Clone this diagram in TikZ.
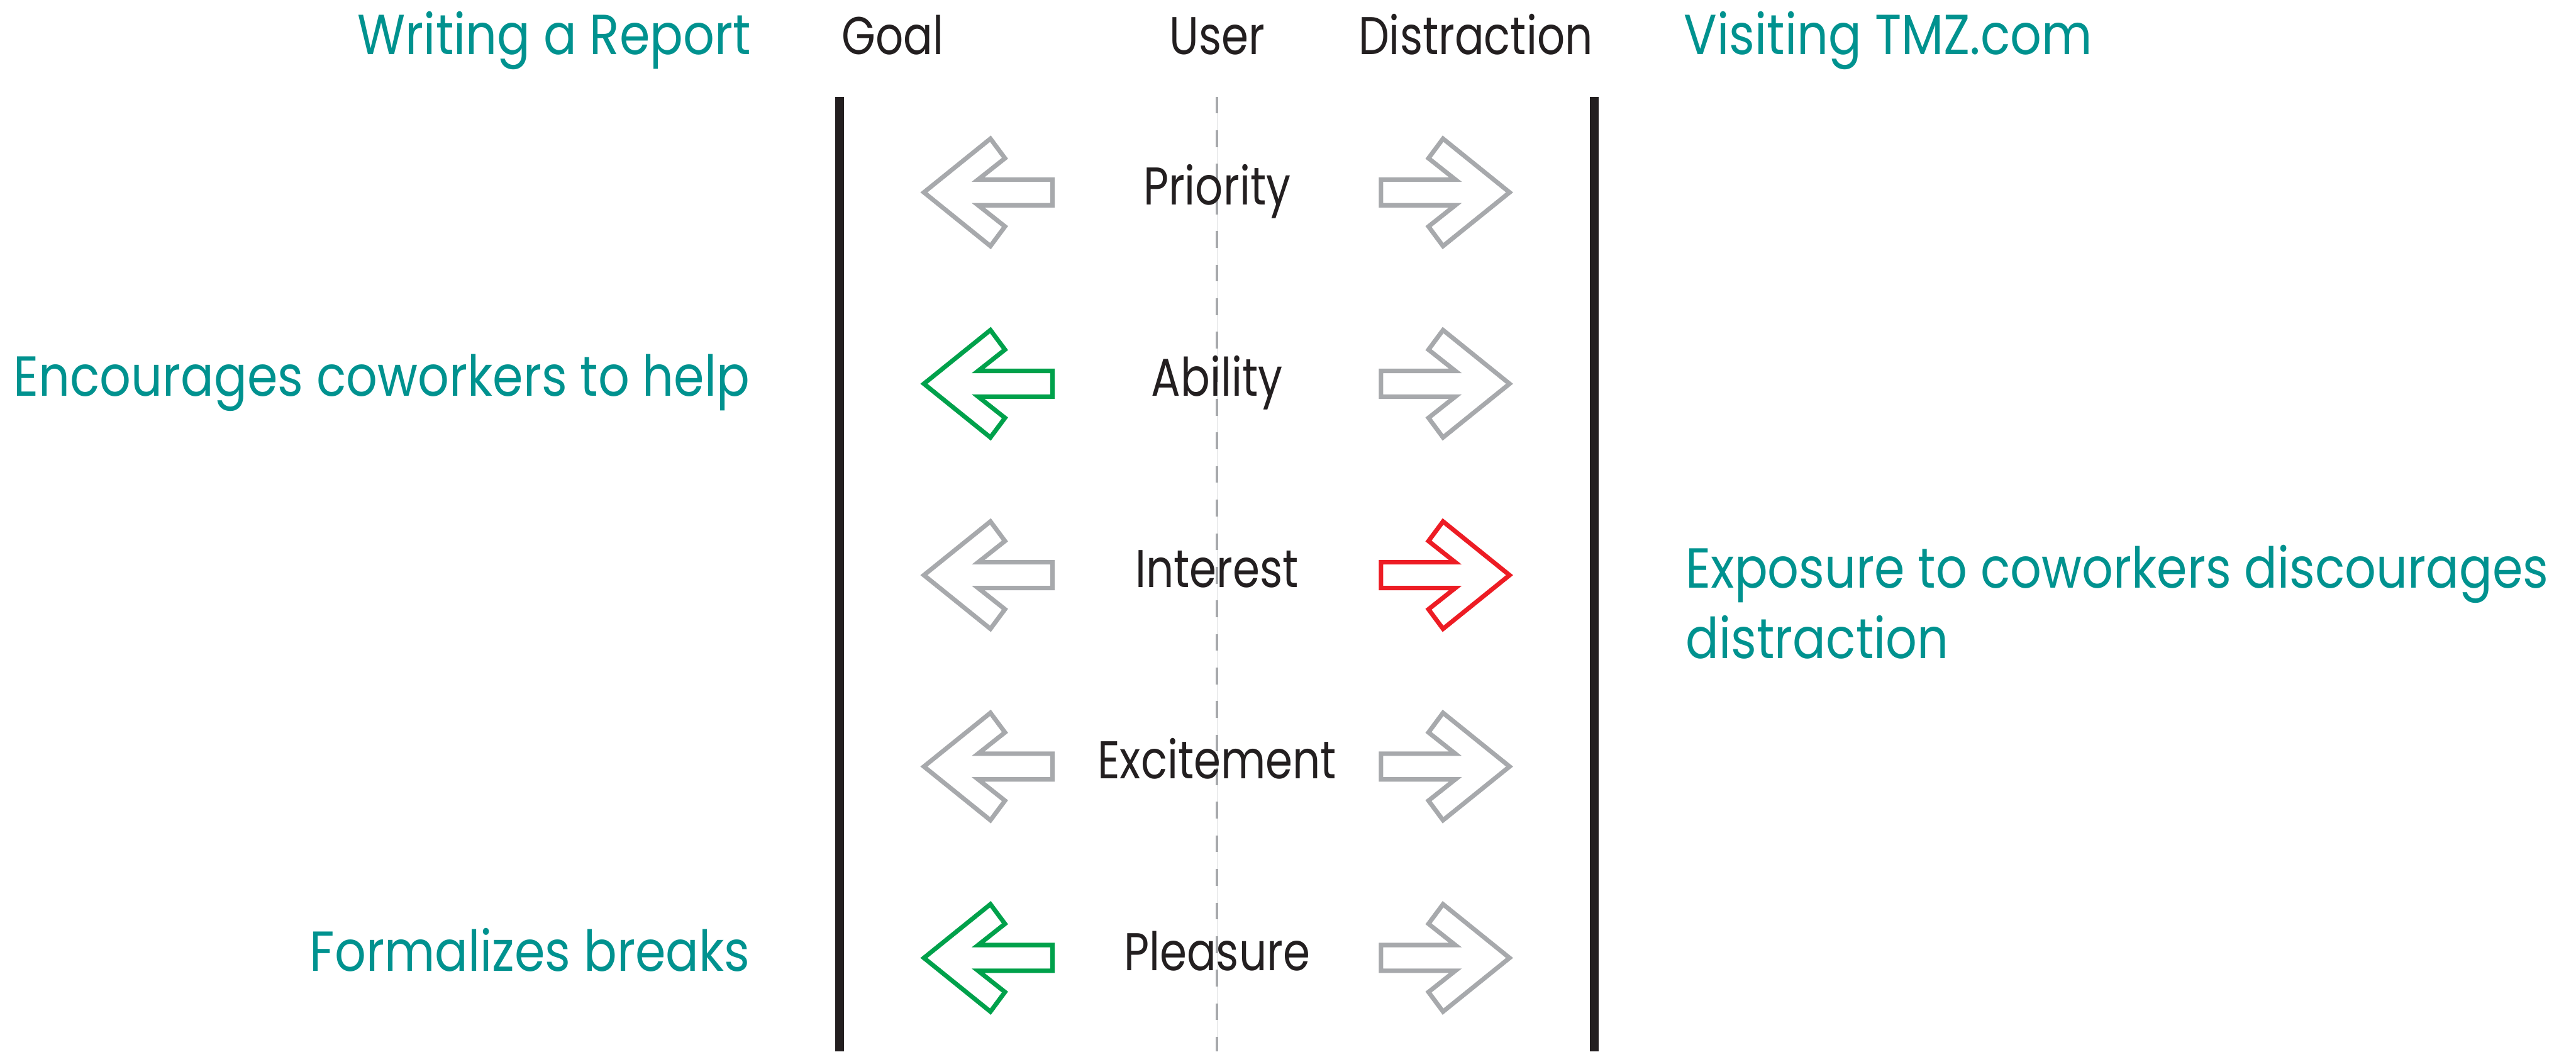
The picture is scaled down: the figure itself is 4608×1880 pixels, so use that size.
\documentclass[tikz,border=0pt]{standalone}
\usepackage{fontspec}
\setmainfont[FakeStretch=0.82]{Poppins}
\newfontfamily\notefont[FakeStretch=0.87]{Poppins}
\usetikzlibrary{positioning}

\definecolor{noteteal}{RGB}{0,146,143}
\definecolor{pullgreen}{RGB}{0,161,75}
\definecolor{pullred}{RGB}{237,28,36}
\definecolor{idlegray}{RGB}{167,169,172}
\definecolor{inkblack}{RGB}{35,31,32}

\tikzset{
  head/.style={inner sep=0pt, text=inkblack, font=\fontsize{27}{33}\selectfont},
  sidehead/.style={inner sep=0pt, text=noteteal, font=\notefont\fontsize{28.7}{35.85}\selectfont},
  factor/.style={inner sep=0pt, text=inkblack, font=\fontsize{27}{33}\selectfont,
    text height=0.74cm, text depth=0.30cm},
  note/.style={inner sep=0pt, text=noteteal, font=\notefont\fontsize{28.7}{35.85}\selectfont},
  rule/.style={line width=0.15cm, inkblack},
  userline/.style={line width=0.04cm, idlegray, dash pattern=on 0.3cm off 0.3cm},
  hairline/.style={line width=0.01cm, idlegray!35},
  arrowline/.style={line width=0.08cm},
  % hollow arrows pointing to the goal (left) or the distraction (right)
  pics/goalarrow/.style={code={
    \draw[arrowline, #1] (0,0) -- (119,-96) -- (145,-61) -- (97,-23) -- (230,-23)
      -- (230,23) -- (97,23) -- (145,61) -- (119,96) -- cycle;}},
  pics/distarrow/.style={code={
    \draw[arrowline, #1] (0,0) -- (-119,-96) -- (-145,-61) -- (-97,-23) -- (-230,-23)
      -- (-230,23) -- (-97,23) -- (-145,61) -- (-119,96) -- cycle;}}
}

\begin{document}
\begin{tikzpicture}[x=0.01cm, y=-0.01cm]
\useasboundingbox (0,0) rectangle (4608,1880);

% the three columns
\coordinate (goaltop) at (1502,173);
\coordinate (goalend) at (1502,1880);
\coordinate (usertop) at (2177,173);
\coordinate (userend) at (2177,1880);
\coordinate (disttop) at (2852,173);
\coordinate (distend) at (2852,1880);
\draw[rule] (goaltop) -- (goalend);
\draw[hairline] (usertop) -- (userend);
\draw[userline] (usertop) -- (userend);
\draw[rule] (disttop) -- (distend);

% column heads
\node[head, anchor=base west] (goal) at (1505,97) {Goal};
\node[head, anchor=base] (user) at (2177,97) {User};
\node[head, anchor=base east] (distraction) at (2850,97) {Distraction};
\node[sidehead, anchor=base east] (report) at (1344,97) {Writing a Report};
\node[sidehead, anchor=base west] (tmz) at (3012,97) {Visiting TMZ.com};

% factors
\node[factor] (priority) at (2177,344) {Priority};
\node[factor, on grid, below=3.42cm of priority] (ability) {Ability};
\node[factor, on grid, below=3.42cm of ability] (interest) {Interest};
\node[factor, on grid, below=3.42cm of interest] (excitement) {Excitement};
\node[factor, on grid, below=3.42cm of excitement] (pleasure) {Pleasure};

\pic at ([xshift=-5.24cm]priority.center) {goalarrow=idlegray};
\pic at ([xshift=5.23cm]priority.center) {distarrow=idlegray};
\pic at ([xshift=-5.24cm]ability.center) {goalarrow=pullgreen};
\pic at ([xshift=5.23cm]ability.center) {distarrow=idlegray};
\pic at ([xshift=-5.24cm]interest.center) {goalarrow=idlegray};
\pic at ([xshift=5.23cm]interest.center) {distarrow=pullred};
\pic at ([xshift=-5.24cm]excitement.center) {goalarrow=idlegray};
\pic at ([xshift=5.23cm]excitement.center) {distarrow=idlegray};
\pic at ([xshift=-5.24cm]pleasure.center) {goalarrow=pullgreen};
\pic at ([xshift=5.23cm]pleasure.center) {distarrow=idlegray};

% what the office does to each pull
\node[note, anchor=base east] (helpnote) at (1342,708) {Encourages coworkers to help};
\node[note, anchor=base west, align=left] (exposurenote) at (3015,1177)
  {Exposure to coworkers discourages\\distraction};
\node[note, anchor=base east] (breaknote) at (1342,1736) {Formalizes breaks};
\end{tikzpicture}
\end{document}
